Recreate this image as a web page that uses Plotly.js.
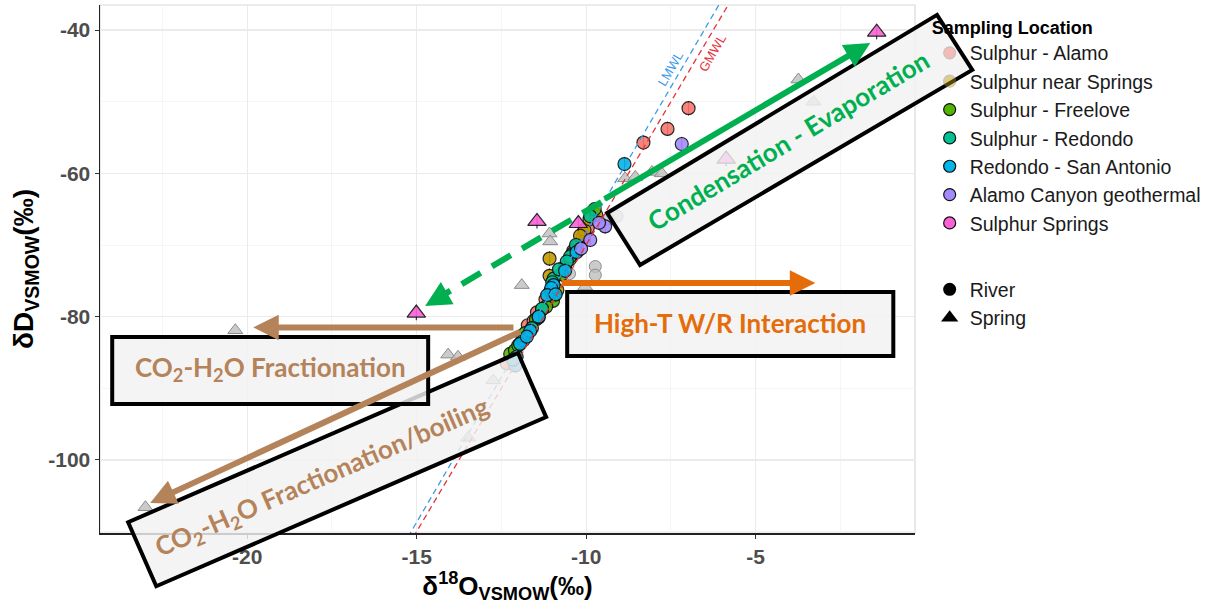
<!DOCTYPE html>
<html><head><meta charset="utf-8">
<script src="https://cdn.plot.ly/plotly-3.0.1.min.js"></script>
<style>html,body{margin:0;padding:0;background:#fff}</style>
</head><body><div id="chart" style="width:1213px;height:607px"></div>
<script>
// ---------- data ----------
const locations = ['Sulphur - Alamo','Sulphur near Springs','Sulphur - Freelove','Sulphur - Redondo','Redondo - San Antonio','Alamo Canyon geothermal','Sulphur Springs'];
const locColors = ['#F8766D','#C49A00','#53B400','#00C094','#00B6EB','#A58AFF','#FB61D7'];

const alamoX = [-6.98,-7.60,-8.31,-10.28,-10.38,-10.62,-11.20,-11.45,-11.72,-12.34,-9.95,-10.10,-11.05,-11.55];
const alamoY = [-50.9,-53.8,-55.7,-70.2,-70.8,-73.1,-77.6,-79.4,-81.2,-86.5,-67.6,-68.9,-76.4,-80.6];
const nearSpringsX = [-11.08,-11.08,-10.05,-10.18,-9.80,-11.02,-10.85,-9.70,-10.48,-11.88,-10.95,-9.90];
const nearSpringsY = [-71.9,-74.3,-67.9,-68.7,-65.3,-76.7,-76.3,-65.8,-72.0,-83.1,-77.1,-66.4];
const freeloveX = [-10.98,-11.18,-12.24,-12.10,-9.75,-11.48,-10.72,-11.80,-11.30,-10.40,-12.00];
const freeloveY = [-77.8,-78.6,-85.2,-84.7,-65.0,-80.4,-74.1,-82.3,-79.0,-71.2,-84.0];
const redondoX = [-10.96,-10.47,-10.57,-11.30,-11.60,-11.00,-9.88,-11.85,-10.80,-10.30,-11.40,-12.05];
const redondoY = [-74.7,-71.6,-72.3,-78.9,-81.6,-75.2,-66.0,-83.3,-73.4,-70.0,-80.1,-85.6];
const sanAntonioX = [-8.87,-10.96,-10.28,-11.03,-11.40,-11.95,-12.09,-11.65,-10.62,-11.15,-10.90,-11.75,-12.15];
const sanAntonioY = [-58.7,-75.6,-71.0,-76.0,-80.0,-83.8,-86.8,-82.0,-73.6,-77.0,-76.9,-82.8,-86.0];
const geothermalX = [-7.18,-9.44,-9.88,-9.62,-10.15];
const geothermalY = [-55.9,-67.4,-69.3,-66.9,-70.5];
const springsX = [-1.43,-5.87,-11.45,-10.23,-15.01];
const springsY = [-40.3,-58.0,-66.7,-67.0,-79.5];

const otherSpringX = [-3.74,-3.29,-8.85,-8.55,-8.06,-7.77,-11.08,-11.06,-10.03,-11.90,-20.35,-14.07,-13.78,-12.74,-13.48,-23.0];
const otherSpringY = [-46.9,-50.0,-60.7,-60.5,-59.8,-60.0,-68.4,-69.5,-75.8,-75.6,-81.9,-85.3,-85.6,-88.9,-96.9,-106.6];
const otherRiverX = [-9.09,-9.73,-9.73,-10.49,-9.35];
const otherRiverY = [-66.0,-73.0,-74.2,-74.0,-66.4];

const gmwlX = [-16,-5];   const gmwlY = [-118,-30];
const lmwlX = [-16,-5];   const lmwlY = [-116.8,-27.7];

const xTicks = [-20,-15,-10,-5];
const yTicks = [-40,-60,-80,-100];

// ---------- helpers ----------
const xRange = [-24.34,-0.30], yRange = [-110.2,-36.5];
const px = v => (v - xRange[0])/(xRange[1]-xRange[0]);
const py = v => (v - yRange[0])/(yRange[1]-yRange[0]);
const polyPath = pts => 'M' + pts.map(p => px(p[0]).toFixed(5)+','+py(p[1]).toFixed(5)).join(' L') + ' Z';

const locX = [alamoX,nearSpringsX,freeloveX,redondoX,sanAntonioX,geothermalX,springsX];
const locY = [alamoY,nearSpringsY,freeloveY,redondoY,sanAntonioY,geothermalY,springsY];

const traces = [];
traces.push({x:otherRiverX,y:otherRiverY,mode:'markers',type:'scatter',showlegend:false,hoverinfo:'skip',
  marker:{symbol:'circle',size:12,color:'rgba(190,190,190,0.8)',line:{color:'#8c8c8c',width:1}}});
traces.push({x:otherSpringX,y:otherSpringY,mode:'markers',type:'scatter',showlegend:false,hoverinfo:'skip',
  marker:{symbol:'triangle-up',size:13,color:'rgba(190,190,190,0.8)',line:{color:'#8c8c8c',width:1}}});
locations.forEach((name,i)=>{
  traces.push({x:locX[i],y:locY[i],mode:'markers',type:'scatter',name:name,showlegend:false,
    error_y:{type:'constant',value:1.0,thickness:1,width:0,color:'#111'},
    marker:{symbol: i===6 ? 'triangle-up':'circle', size: i===6 ? 16 : 13,
      color:locColors[i],opacity:0.9,line:{color:'#111',width:1.2}}});
});
traces.push({x:lmwlX,y:lmwlY,mode:'lines',type:'scatter',showlegend:false,hoverinfo:'skip',
  line:{color:'#3D9BE9',width:1.3,dash:'6px,4px'}});
traces.push({x:gmwlX,y:gmwlY,mode:'lines',type:'scatter',showlegend:false,hoverinfo:'skip',
  line:{color:'#E5323B',width:1.3,dash:'6px,4px'}});
// legend-only entries
locations.forEach((name,i)=>{
  traces.push({x:[null],y:[null],mode:'markers',type:'scatter',name:name,legendgroup:'loc',
    marker:{symbol:'circle',size:12,color:locColors[i],opacity: i<2 ? 0.45 : 1,line:{color: i<2 ? '#888':'#111',width:1.2}}});
});
traces.push({x:[null],y:[null],mode:'markers',type:'scatter',name:'River',legendgroup:'shape',
  marker:{symbol:'circle',size:13,color:'#000'}});
traces.push({x:[null],y:[null],mode:'markers',type:'scatter',name:'Spring',legendgroup:'shape',
  marker:{symbol:'triangle-up',size:15,color:'#000'}});

// ---------- annotation geometry ----------
const boxFill = 'rgba(242,242,242,0.82)';
const condBox = [[-9.38,-65.53],[-8.41,-72.79],[1.39,-45.56],[0.35,-37.88]];
const boilBox = [[-23.51,-108.69],[-22.68,-117.63],[-11.18,-94.02],[-12.01,-85.08]];
const hiTBox = [[-10.56,-76.56],[-0.94,-76.56],[-0.94,-85.50],[-10.56,-85.50]];
const co2Box = [[-23.98,-82.85],[-14.66,-82.85],[-14.66,-92.21],[-23.98,-92.21]];

const shapes = [
  {type:'rect',xref:'paper',yref:'paper',x0:0,x1:1,y0:0,y1:1,line:{color:'#d9d9d9',width:1.2},layer:'below'},
  {type:'line',xref:'x',yref:'y',x0:-9.55,y0:-64.0,x1:-14.3,y1:-77.2,line:{color:'#00B050',width:6,dash:'22px,13px'},layer:'above'}
];
[condBox,boilBox,hiTBox,co2Box].forEach(b=>{
  shapes.push({type:'path',xref:'paper',yref:'paper',path:polyPath(b),fillcolor:boxFill,line:{color:'#000',width:4},layer:'above'});
});

const green='#00B050', orange='#E46C0A', brown='#B5835A';
const textFont = (c,s)=>({family:'Lato, "Open Sans", sans-serif',size:s,color:c,weight:'bold'});
const arrow = (x,y,ax,ay,c)=>({x:x,y:y,ax:ax,ay:ay,xref:'x',yref:'y',axref:'x',ayref:'y',text:'',showarrow:true,
  arrowhead:2,arrowsize:0.85,arrowwidth:6,arrowcolor:c});
const annotations = [
  arrow(-1.62,-41.8,-9.50,-63.7,green),
  arrow(-14.75,-78.5,-14.2,-77.0,green),
  arrow(-3.24,-75.3,-10.77,-75.3,orange),
  arrow(-19.82,-81.5,-12.1,-81.5,brown),
  arrow(-22.86,-106.0,-11.9,-82.0,brown),
  {x:-4.02,y:-55.4,xref:'x',yref:'y',text:'Condensation - Evaporation',showarrow:false,textangle:-31,font:textFont(green,26)},
  {x:-5.75,y:-80.9,xref:'x',yref:'y',text:'High-T W/R Interaction',showarrow:false,font:textFont(orange,26)},
  {x:-19.32,y:-87.2,xref:'x',yref:'y',text:'CO<sub>2</sub>-H<sub>2</sub>O Fractionation',showarrow:false,font:textFont(brown,26)},
  {x:-17.79,y:-102.5,xref:'x',yref:'y',text:'CO<sub>2</sub>-H<sub>2</sub>O Fractionation/boiling',showarrow:false,textangle:-23.5,font:textFont(brown,26)},
  {x:-7.52,y:-45.3,xref:'x',yref:'y',text:'LMWL',showarrow:false,textangle:-60,font:{family:'Liberation Sans, Arial',size:13,color:'#3D9BE9'}},
  {x:-6.29,y:-43.2,xref:'x',yref:'y',text:'GMWL',showarrow:false,textangle:-60,font:{family:'Liberation Sans, Arial',size:13,color:'#E5323B'}}
];

const tickFont = {family:'Liberation Sans, Arial',size:21,color:'#4D4D4D',weight:'bold'};
const layout = {
  width:1213,height:607,margin:{l:100,r:298,t:5,b:74},
  paper_bgcolor:'#fff',plot_bgcolor:'#fff',
  font:{family:'Liberation Sans, Arial',color:'#1a1a1a'},
  xaxis:{range:xRange,tickvals:xTicks,ticktext:xTicks.map(String),showgrid:true,gridcolor:'#EBEBEB',gridwidth:1.2,
    minor:{dtick:2.5,tick0:0,showgrid:true,gridcolor:'#F3F3F3',gridwidth:0.8,ticks:''},
    zeroline:false,showline:true,linecolor:'#222',linewidth:1.5,ticks:'outside',ticklen:4,tickcolor:'#333',tickfont:tickFont,
    title:{text:'δ<sup>18</sup>O<sub>VSMOW</sub>(‰)',font:{family:'Liberation Sans, Arial',size:26,color:'#000',weight:'bold'},standoff:8}},
  yaxis:{range:yRange,tickvals:yTicks,ticktext:yTicks.map(String),showgrid:true,gridcolor:'#EBEBEB',gridwidth:1.2,
    minor:{dtick:10,tick0:0,showgrid:true,gridcolor:'#F3F3F3',gridwidth:0.8,ticks:''},
    zeroline:false,showline:true,linecolor:'#222',linewidth:1.5,ticks:'outside',ticklen:4,tickcolor:'#333',tickfont:tickFont,
    title:{text:'δD<sub>VSMOW</sub>(‰)',font:{family:'Liberation Sans, Arial',size:28,color:'#000',weight:'bold'},standoff:6}},
  legend:{x:1.018,y:0.99,xanchor:'left',yanchor:'top',bgcolor:'rgba(0,0,0,0)',traceorder:'grouped',tracegroupgap:38,
    font:{family:'Liberation Sans, Arial',size:19.5,color:'#1a1a1a'},itemsizing:'trace',
    title:{text:'Sampling Location',font:{family:'Liberation Sans, Arial',size:18,color:'#000',weight:'bold'}}},
  shapes:shapes,annotations:annotations,showlegend:true
};
Plotly.newPlot('chart',traces,layout,{displayModeBar:false,staticPlot:true});
</script></body></html>
